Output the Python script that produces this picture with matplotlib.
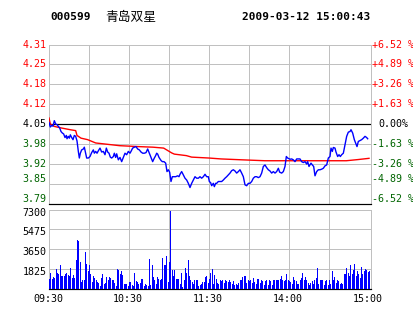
import matplotlib
matplotlib.use("Agg")
import matplotlib.pyplot as plt
from matplotlib.transforms import offset_copy, blended_transform_factory

# ---------------- data ----------------
stock_code = "000599"
stock_name = "青岛双星"
timestamp = "2009-03-12 15:00:43"

prev_close = 4.05
price_step = 0.066
price_labels = ["4.31", "4.25", "4.18", "4.12", "4.05", "3.98", "3.92", "3.85", "3.79"]
pct_labels = ["+6.52 %", "+4.89 %", "+3.26 %", "+1.63 %", "0.00%",
              "-1.63 %", "-3.26 %", "-4.89 %", "-6.52 %"]
vol_ticks = [7300, 5475, 3650, 1825]
vol_labels = ["7300", "5475", "3650", "1825"]
time_ticks = [0, 60, 120, 180, 240]
time_labels = ["09:30", "10:30", "11:30", "14:00", "15:00"]

price_minutes = [
    0, 1, 2, 3, 4, 5, 6, 7, 8, 9, 10, 11, 12, 13, 13.5, 14.5, 15.25, 16, 17, 18,
    19, 20, 21, 22, 22.75, 23.5, 24.5, 25.75, 26.5, 27.25, 28.25, 29.5, 30.75, 32,
    33.25, 34, 35, 36, 37, 38.25, 39.5, 40.75, 42, 43, 44, 45, 46, 47, 48.25, 49,
    50, 50.75, 52, 53.25, 54.5, 55.75, 57, 58.25, 59.5, 60.75, 61.5, 62.75, 64,
    65.25, 66.5, 67.75, 69, 70.25, 71.5, 72.75, 74, 75.25, 76.5, 77.75, 79, 80,
    80.75, 81.5, 82.5, 84, 85, 86.25, 87.5, 88.5, 89.5, 90.5, 91.5, 92.5, 93.75,
    95, 96.5, 97.5, 98.25, 99.5, 100.75, 102, 103.25, 104.5, 105.75, 107, 108.25,
    109.5, 110.75, 112, 113.25, 114.5, 115.75, 117, 118.25, 119.5, 120.25, 121.25,
    122, 123.25, 124, 125, 125.75, 127, 129.5, 130.75, 132, 133.25, 134.5, 135.75,
    137, 138.25, 139.5, 140.75, 142, 143.25, 144.5, 145.75, 147, 148.25, 149.5,
    150.75, 152, 153.25, 154.5, 155.75, 157, 158.25, 159.5, 160.75, 162, 163.25,
    164.5, 165.75, 167, 168.25, 169.5, 170.75, 172, 173, 174.5, 175.75, 177, 178,
    179, 180.75, 182, 183.25, 184.5, 185.75, 187, 188.25, 189.5, 190.75, 192,
    193.25, 194, 195, 196.5, 197.5, 198.5, 199.5, 200.75, 202, 203.25, 204.5,
    205.75, 207, 208.25, 209.5, 210.75, 211.5, 212.5, 213.25, 214.5, 215.25,
    216.5, 217.5, 218.5, 219.5, 220.75, 222, 223.25, 224.5, 225.75, 226.5, 227.75,
    229, 230.25, 231, 232, 233.25, 234.5, 235.75, 237, 238.25, 239]
price_values = [
    4.055, 4.040, 4.045, 4.043, 4.061, 4.050, 4.048, 4.042, 4.037, 4.025, 4.020,
    4.017, 4.005, 4.012, 4.001, 4.009, 4.003, 4.014, 4.005, 3.998, 4.012, 4.009,
    3.994, 3.959, 3.937, 3.953, 3.964, 3.967, 3.973, 3.957, 3.937, 3.937, 3.942,
    3.955, 3.964, 3.953, 3.959, 3.953, 3.961, 3.970, 3.957, 3.959, 3.948, 3.970,
    3.957, 3.953, 3.940, 3.937, 3.942, 3.953, 3.939, 3.951, 3.931, 3.939, 3.925,
    3.939, 3.953, 3.948, 3.959, 3.953, 3.959, 3.970, 3.973, 3.975, 3.967, 3.964,
    3.957, 3.953, 3.953, 3.955, 3.967, 3.953, 3.939, 3.925, 3.937, 3.945, 3.953,
    3.950, 3.939, 3.929, 3.925, 3.925, 3.920, 3.892, 3.898, 3.890, 3.859, 3.875,
    3.875, 3.875, 3.878, 3.875, 3.883, 3.892, 3.881, 3.870, 3.864, 3.853, 3.839,
    3.853, 3.864, 3.875, 3.870, 3.870, 3.875, 3.870, 3.875, 3.883, 3.875, 3.875,
    3.859, 3.855, 3.845, 3.853, 3.842, 3.853, 3.853, 3.859, 3.859, 3.864, 3.870,
    3.875, 3.881, 3.887, 3.895, 3.898, 3.894, 3.887, 3.892, 3.898, 3.887, 3.875,
    3.848, 3.845, 3.853, 3.853, 3.859, 3.870, 3.875, 3.875, 3.872, 3.875, 3.887,
    3.909, 3.914, 3.905, 3.898, 3.894, 3.887, 3.892, 3.887, 3.892, 3.903, 3.890,
    3.887, 3.892, 3.909, 3.942, 3.937, 3.933, 3.934, 3.931, 3.925, 3.934, 3.934,
    3.934, 3.925, 3.922, 3.925, 3.917, 3.925, 3.909, 3.920, 3.914, 3.909, 3.878,
    3.892, 3.898, 3.898, 3.900, 3.903, 3.911, 3.914, 3.937, 3.942, 3.970, 3.959,
    3.972, 3.970, 3.957, 3.942, 3.948, 3.942, 3.948, 3.953, 3.981, 4.009, 4.023,
    4.025, 4.031, 4.020, 3.998, 3.983, 3.975, 3.992, 3.995, 3.998, 4.003, 4.009,
    4.005, 4.001]

avg_minutes = [0, 1, 4, 9, 16, 20, 21, 24, 29, 35, 53, 67, 78, 86, 89, 92, 94,
               103, 107, 120, 129, 145, 162, 223, 232, 240]
avg_values = [4.070, 4.050, 4.042, 4.037, 4.031, 4.028, 4.012, 4.003, 3.998,
              3.987, 3.978, 3.975, 3.973, 3.970, 3.962, 3.954, 3.950, 3.945,
              3.940, 3.937, 3.934, 3.931, 3.928, 3.928, 3.932, 3.936]

volume = [
    860, 1450, 920, 1020, 990, 1790, 1450, 1360, 2160, 1140,
    1140, 1200, 1320, 1420, 1260, 1140, 1880, 950, 1230, 950,
    2620, 4470, 4370, 2460, 620, 830, 770, 3390, 2310, 1600,
    2160, 1320, 620, 1140, 990, 770, 600, 520, 250, 990,
    1320, 370, 520, 1020, 830, 1080, 990, 770, 830, 520,
    220, 1760, 1690, 1360, 1600, 1230, 370, 450, 370, 220,
    620, 590, 310, 220, 1420, 700, 620, 460, 520, 860,
    860, 220, 370, 340, 220, 2710, 340, 2160, 1020, 770,
    460, 1080, 900, 830, 920, 2800, 2190, 2160, 2990, 620,
    2460, 7150, 1690, 1140, 1690, 920, 920, 920, 460, 1450,
    150, 770, 1880, 1450, 2620, 1140, 830, 620, 460, 770,
    830, 830, 220, 310, 400, 590, 620, 1080, 1140, 520,
    920,
    1390, 1790, 400, 1260, 860, 550, 460, 740, 710, 770,
    520, 830, 710, 620, 830, 620, 460, 680, 280, 460,
    340, 520, 740, 770, 1080, 1140, 1200, 550, 830, 680,
    770, 520, 950, 620, 460, 860, 920, 550, 770, 650,
    310, 710, 830, 280, 770, 650, 280, 770, 770, 770,
    770, 770, 890, 1140, 770, 710, 770, 1320, 770, 680,
    620, 400, 1020, 830, 710, 460, 460, 770, 950, 1390,
    770, 1020, 770, 520, 280, 520, 680, 460, 770, 950,
    1850, 460, 830, 740, 740, 310, 710, 770, 310, 770,
    400, 1600, 770, 1080, 550, 770, 650, 460, 520, 460,
    1320, 1320, 1940, 1390, 1200, 2130, 1320, 1690, 2310, 1200,
    1630, 1320, 950, 2000, 1320, 1630, 1760, 1690, 1540, 1630]
vol_minutes = list(range(len(volume)))

# ---------------- style / layout ----------------
W, H, DPI = 414, 314, 100
GRID = "#c0c0c0"
RED = "#ff0000"
GREEN = "#006400"
BLUE = "#0000ff"
PX = 72.0 / DPI           # one pixel in points
MONO = "DejaVu Sans Mono"
FS = 7.2
XMAX = 241.5

fig = plt.figure(figsize=(W / DPI, H / DPI), dpi=DPI)
fig.patch.set_facecolor("white")


def box(left, top, width, height):
    return [left / W, 1 - (top + height) / H, width / W, height / H]


ax = fig.add_axes(box(49, 44.5, 322, 159))
axv = fig.add_axes(box(49, 209.5, 322, 79))

levels = [prev_close + price_step * k for k in (4, 3, 2, 1, 0, -1, -2, -3, -4)]

for a in (ax, axv):
    a.set_xlim(0, XMAX)
    a.set_xticks([])
    a.set_yticks([])
    for s in ("left", "top", "right"):
        a.spines[s].set_color(GRID)
        a.spines[s].set_linewidth(PX)
    a.spines["bottom"].set_color("black")
    a.spines["bottom"].set_linewidth(PX * 1.2)
    for m in range(30, 240, 30):
        a.axvline(m, color=GRID, lw=PX, zorder=0.5)

# ---- price panel ----
ax.set_ylim(levels[-1], levels[0])
for lv in levels[1:-1]:
    if abs(lv - prev_close) < 1e-9:
        ax.axhline(lv, color="black", lw=PX * 1.2, zorder=0.6)
    else:
        ax.axhline(lv, color=GRID, lw=PX, zorder=0.5)

ax.plot(avg_minutes, avg_values, color=RED, lw=1.0, zorder=3)
ax.plot(price_minutes, price_values, color=BLUE, lw=1.0, zorder=4)

trans_l = blended_transform_factory(ax.transAxes, ax.transData)
for lv, lab, plab in zip(levels, price_labels, pct_labels):
    if abs(lv - prev_close) < 1e-9:
        col = "black"
    elif lv > prev_close:
        col = RED
    else:
        col = GREEN
    shift = 5 if lv < prev_close - 2.5 * price_step else 0
    tl = offset_copy(trans_l, fig=fig, x=-2.5, y=shift, units="dots")
    ax.text(0, lv, lab, transform=tl, ha="right", va="center", color=col,
            family=MONO, fontsize=FS)
    xoff = 7.5 if abs(lv - prev_close) < 1e-9 else 1
    tr = offset_copy(trans_l, fig=fig, x=xoff, y=shift, units="dots")
    ax.text(1, lv, plab, transform=tr, ha="left", va="center", color=col,
            family=MONO, fontsize=FS)

# ---- volume panel ----
axv.set_ylim(0, vol_ticks[0])
for v in vol_ticks[1:]:
    axv.axhline(v, color=GRID, lw=PX, zorder=0.5)
axv.vlines(vol_minutes, 0, volume, colors=BLUE, linewidth=PX,
           antialiased=False, zorder=3)

trans_vl = blended_transform_factory(axv.transAxes, axv.transData)
for v, lab in zip(vol_ticks, vol_labels):
    t = offset_copy(trans_vl, fig=fig, x=-2.5, y=-3, units="dots")
    axv.text(0, v, lab, transform=t, ha="right", va="center", color="black",
             family=MONO, fontsize=FS)

trans_x = blended_transform_factory(axv.transData, axv.transAxes)
for m, lab in zip(time_ticks, time_labels):
    t = offset_copy(trans_x, fig=fig, x=-1, y=-10, units="dots")
    axv.text(m, 0, lab, transform=t, ha="center", va="center", color="black",
             family=MONO, fontsize=FS)

# ---- header ----
ty = 1 - 17 / H
fig.text(50 / W, ty, stock_code, family=MONO, fontweight="bold", fontsize=8,
         ha="left", va="center", color="black")
fig.text(105 / W, ty, stock_name, family=["Noto Sans CJK SC", "DejaVu Sans"],
         fontsize=9.2, ha="left", va="center", color="black")
fig.text(370 / W, ty, timestamp, family=MONO, fontweight="bold", fontsize=8,
         ha="right", va="center", color="black")

fig.savefig("out.png", dpi=DPI, facecolor="white")
